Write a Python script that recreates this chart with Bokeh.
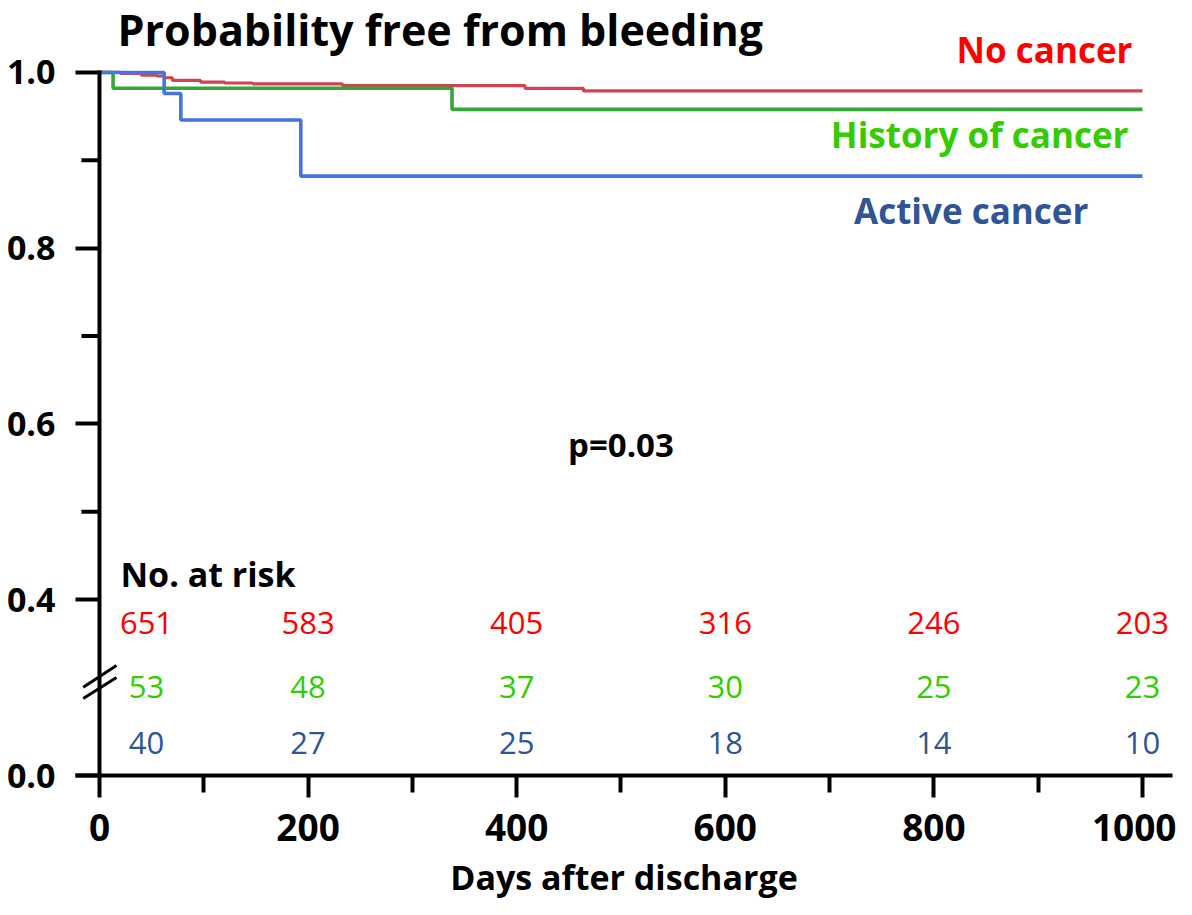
from bokeh.plotting import figure
from bokeh.models import Range1d, FixedTicker, Label, ColumnDataSource
from bokeh.core.properties import value
from bokeh.embed import file_html
from bokeh.resources import INLINE

# ---- data ----
no_cancer_days = [0, 20, 40, 55, 62, 70, 97, 120, 147, 233, 408, 464, 1000]
no_cancer_surv = [1.0, 0.999, 0.997, 0.996, 0.994, 0.991, 0.989, 0.988, 0.987, 0.985, 0.982, 0.979, 0.979]

history_days = [0, 13, 338, 1000]
history_surv = [1.0, 0.982, 0.958, 0.958]

active_days = [0, 62, 78, 193, 1000]
active_surv = [1.0, 0.976, 0.946, 0.882, 0.882]

risk_days = [0, 200, 400, 600, 800, 1000]
risk_no_cancer = [651, 583, 405, 316, 246, 203]
risk_history = [53, 48, 37, 30, 25, 23]
risk_active = [40, 27, 25, 18, 14, 10]

x_ticks = [0, 200, 400, 600, 800, 1000]
x_minor = [100, 300, 500, 700, 900]
y_ticks = [0.2, 0.4, 0.6, 0.8, 1.0]          # 0.2 is the broken-axis position of 0.0
y_tick_labels = ["0.0", "0.4", "0.6", "0.8", "1.0"]
y_minor = [0.5, 0.7, 0.9]

FONT = "Open Sans"
RED_LINE, GREEN_LINE, BLUE_LINE = "#d24352", "#33a636", "#4474e2"
RED_TXT, GREEN_TXT, BLUE_TXT = "#ff0000", "#33cc00", "#2f5597"

p = figure(frame_width=1097, frame_height=775,
           x_range=Range1d(-23.0, 1028.8), y_range=Range1d(0.2, 1.0819),
           output_backend="svg", toolbar_location=None,
           min_border_left=75, min_border_right=4, min_border_top=0, min_border_bottom=124)
p.title.visible = False
p.xgrid.visible = False
p.ygrid.visible = False
p.outline_line_color = None
p.background_fill_color = "white"
p.border_fill_color = "white"

# x axis (at the bottom of the frame)
xa = p.xaxis[0]
xa.ticker = FixedTicker(ticks=x_ticks, minor_ticks=x_minor)
xa.axis_line_width = 4
xa.axis_line_color = "black"
xa.major_tick_line_width = 4
xa.minor_tick_line_width = 4
xa.major_tick_in = 0
xa.minor_tick_in = 0
xa.major_tick_out = 22
xa.minor_tick_out = 17
xa.major_label_text_font = FONT
xa.major_label_text_font_style = "bold"
xa.major_label_text_font_size = "37px"
xa.major_label_text_color = "black"
xa.major_label_standoff = 16
xa.axis_label = "Days after discharge"
xa.axis_label_text_font = FONT
xa.axis_label_text_font_style = "bold"
xa.axis_label_text_font_size = "34px"
xa.axis_label_text_color = "black"
xa.axis_label_standoff = 10

# y axis: labels + major ticks drawn inward from the frame edge up to x = 0
ya = p.yaxis[0]
ya.ticker = FixedTicker(ticks=y_ticks, minor_ticks=[])
ya.axis_line_color = None
ya.major_tick_line_width = 4
ya.major_tick_in = 24
ya.major_tick_out = 0
ya.minor_tick_in = 0
ya.minor_tick_out = 0
ya.major_label_text_font = FONT
ya.major_label_text_font_style = "bold"
ya.major_label_text_font_size = "34px"
ya.major_label_text_color = "black"
ya.major_label_standoff = 20
ya.major_label_overrides = {t: s for t, s in zip(y_ticks, y_tick_labels)}

# ---- survival curves ----
p.step(no_cancer_days, no_cancer_surv, mode="after", line_color=RED_LINE, line_width=3.2)
p.step(history_days, history_surv, mode="after", line_color=GREEN_LINE, line_width=3.6)
p.step(active_days, active_surv, mode="after", line_color=BLUE_LINE, line_width=3.6)

# ---- y axis line at day 0, minor ticks, and break marks ----
p.segment(x0=[0], y0=[y_ticks[0]], x1=[0], y1=[y_ticks[-1]], line_color="black",
          line_width=4, line_cap="square")
p.segment(x0=[-17.3] * len(y_minor), y0=y_minor, x1=[0] * len(y_minor), y1=y_minor,
          line_color="black", line_width=4)
p.segment(x0=[-15.6, -15.6], y0=[0.3005, 0.2876], x1=[16.3, 16.3], y1=[0.3253, 0.3115],
          line_color="black", line_width=3)

# ---- numbers at risk ----
first_offset = [47, 0, 0, 0, 0, 0]
for counts, ypos, col in [(risk_no_cancer, 0.3734, RED_TXT),
                          (risk_history, 0.3006, GREEN_TXT),
                          (risk_active, 0.2369, BLUE_TXT)]:
    src = ColumnDataSource(dict(x=risk_days, y=[ypos] * len(risk_days),
                                t=[str(c) for c in counts], dx=first_offset))
    p.text(x="x", y="y", text="t", x_offset="dx", source=src,
           text_font=value(FONT), text_font_size=value("31px"), text_color=col,
           text_align="center", text_baseline="alphabetic")

def lab(text, x, y, size, color="black", align="left", style="bold"):
    p.add_layout(Label(x=x, y=y, text=text, text_font=FONT, text_font_size=size,
                       text_font_style=style, text_color=color, text_align=align,
                       text_baseline="alphabetic"))

lab("Probability free from bleeding", 17.3, 1.0486, "43px")
lab("No cancer", 990.4, 1.0262, "35px", RED_TXT, "right")
lab("History of cancer", 986.6, 0.9294, "35px", GREEN_TXT, "right")
lab("Active cancer", 948.2, 0.8430, "35px", BLUE_TXT, "right")
lab("p=0.03", 500, 0.5767, "33px", "black", "center")
lab("No. at risk", 20.1, 0.4294, "34px")

open("out.html", "w").write(file_html(p, INLINE))
